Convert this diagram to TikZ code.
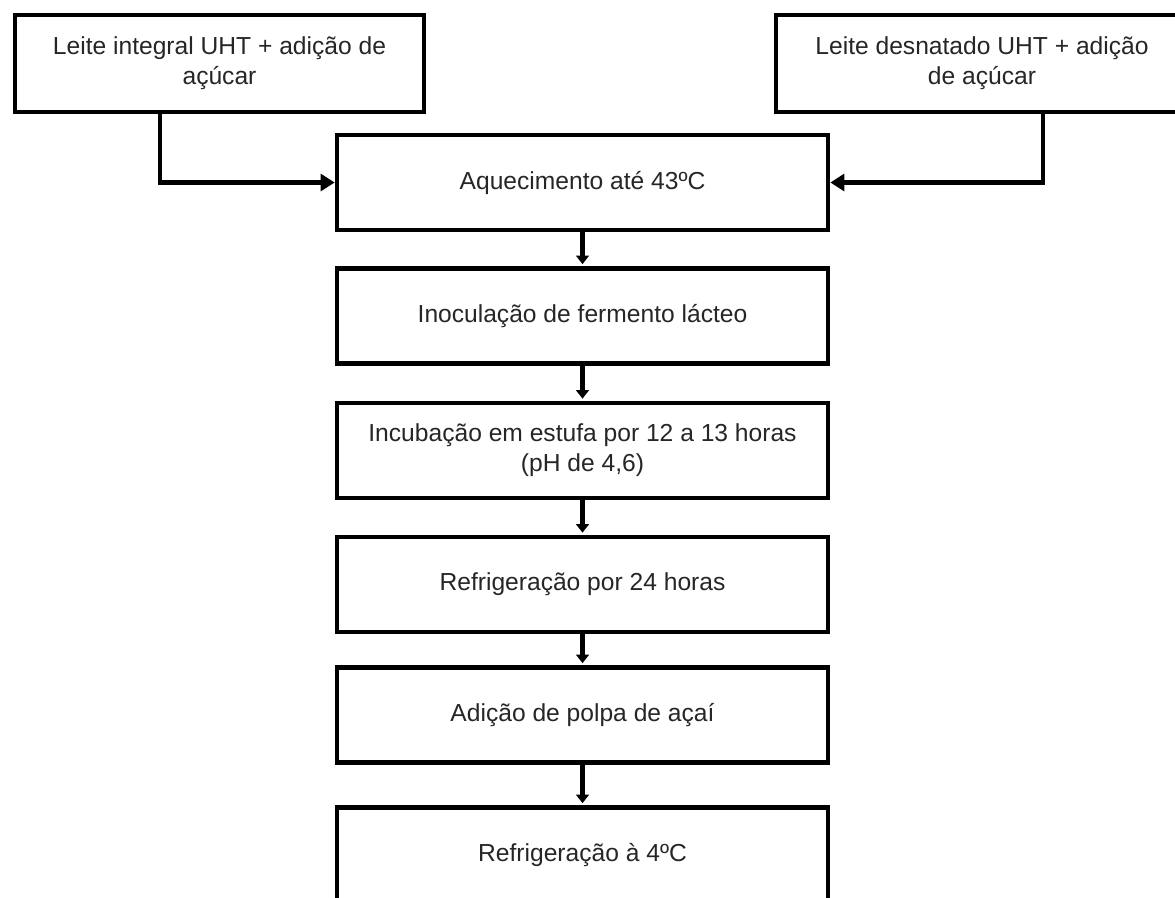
\documentclass[tikz,border=0pt]{standalone}
\usepackage{fontspec}
\setmainfont{Liberation Sans}
\usepackage{tikz}
\usetikzlibrary{arrows.meta,positioning}

\begin{document}
\begin{tikzpicture}[
      x=0.025cm,y=-0.025cm,
      etapa/.style={draw,rectangle,line width=3.2pt,align=center,
        text=black!85,font=\fontsize{17.5pt}{21.5pt}\selectfont,
        minimum width=12.275cm,minimum height=2.375cm,inner sep=0pt},
      entrada/.style={etapa,minimum height=2.425cm},
      trans/.style={-{Triangle[length=10pt,width=12pt]},line width=3.2pt},
      down/.style={-{Triangle[length=6pt,width=9pt]},line width=3.2pt,shorten >=1.5pt},
      ]
      \useasboundingbox (0,0) rectangle (1175,897);
      \clip (0,0) rectangle (1175,897);

      % entradas
      \node (li) [entrada,minimum width=10.225cm] at (219.5,63.5)
        {Leite integral UHT + adição de\\açúcar};
      \node (ld) [entrada,minimum width=10.3cm] at (982,63.5)
        {Leite desnatado UHT + adição\\de açúcar};

      % etapas
      \node (1) [etapa] at (582.5,182.5) {Aquecimento até 43ºC};
      \node (2) [etapa] at (582.5,316) {Inoculação de fermento lácteo};
      \node (3) [etapa] at (582.5,450.5)
        {Incubação em estufa por 12 a 13 horas\\(pH de 4,6)};
      \node (4) [etapa] at (582.5,584.5) {Refrigeração por 24 horas};
      \node (5) [etapa] at (582.5,715) {Adição de polpa de açaí};
      \node (6) [etapa] at (582.5,855) {Refrigeração à 4ºC};

      \draw [trans] ([xshift=-1.49cm]li.south) |- (1.west);
      \draw [trans] ([xshift=1.525cm]ld.south) |- (1.east);
      \draw [down] (1) -- (2);
      \draw [down] (2) -- (3);
      \draw [down] (3) -- (4);
      \draw [down] (4) -- (5);
      \draw [down] (5) -- (6);
  \end{tikzpicture}
\end{document}
